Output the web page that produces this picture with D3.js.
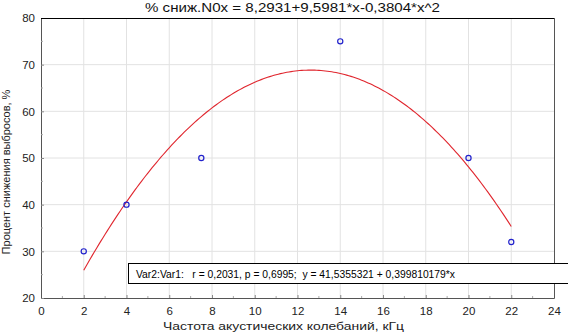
<!DOCTYPE html>
<html><head><meta charset="utf-8">
<script src="https://cdn.jsdelivr.net/npm/d3@7/dist/d3.min.js"></script>
<style>body{margin:0;background:#fff;}svg{display:block;font-family:"Liberation Sans",Arial,sans-serif;}</style>
</head><body>
<svg id="c" width="568" height="335"></svg>
<script>
const xValues = [2, 4, 7.5, 14, 20, 22];
const yValues = [30, 40, 50, 75, 50, 32];
const xTicks = [0,2,4,6,8,10,12,14,16,18,20,22,24];
const yTicks = [20,30,40,50,60,70,80];
const coef = [8.2931, 9.5981, -0.3804];
const titleText = "% сниж.N0x = 8,2931+9,5981*x-0,3804*x^2";
const xLabel = "Частота акустических колебаний, кГц";
const yLabel = "Процент снижения выбросов, %";
const legendText = "Var2:Var1:   r = 0,2031, p = 0,6995;  y = 41,5355321 + 0,399810179*x";

const svg = d3.select("#c");
const L=41,R=554,T=18,B=298;
const x = d3.scaleLinear().domain([0,24]).range([L,R]);
const y = d3.scaleLinear().domain([20,80]).range([B,T]);

// grid
svg.append("g").selectAll("line").data(xTicks.slice(1,-1)).join("line")
  .attr("x1",d=>x(d)).attr("x2",d=>x(d)).attr("y1",T).attr("y2",B)
  .attr("stroke","#e2e2e2").attr("stroke-width",1);
svg.append("g").selectAll("line").data(yTicks.slice(1,-1)).join("line")
  .attr("y1",d=>y(d)).attr("y2",d=>y(d)).attr("x1",L).attr("x2",R)
  .attr("stroke","#e2e2e2").attr("stroke-width",1);

// axes
const xa = svg.append("g").attr("transform",`translate(0,${B})`)
  .call(d3.axisBottom(x).tickValues(xTicks).tickSize(-3).tickPadding(9).tickFormat(d3.format("d")));
const ya = svg.append("g").attr("transform",`translate(${L},0)`)
  .call(d3.axisLeft(y).tickValues(yTicks).tickSize(-3).tickPadding(6).tickFormat(d3.format("d")));
[xa,ya].forEach(a=>{
  a.select(".domain").attr("stroke","#555");
  a.selectAll(".tick line").attr("stroke","#888");
  a.selectAll("text").attr("font-size",11.5).attr("fill","#222").attr("font-family","'Liberation Sans',Arial,sans-serif");
});
// minor ticks
svg.append("g").selectAll("line").data(d3.range(1,24,2)).join("line")
  .attr("x1",d=>x(d)).attr("x2",d=>x(d)).attr("y1",B).attr("y2",B-2).attr("stroke","#aaa");
svg.append("g").selectAll("line").data(d3.range(25,80,10)).join("line")
  .attr("y1",d=>y(d)).attr("y2",d=>y(d)).attr("x1",L).attr("x2",L+2).attr("stroke","#aaa");
// top & right frame
svg.append("line").attr("x1",L).attr("x2",R).attr("y1",T+0.5).attr("y2",T+0.5).attr("stroke","#000");
svg.append("line").attr("x1",R+0.5).attr("x2",R+0.5).attr("y1",T).attr("y2",B).attr("stroke","#555");

// fitted curve
const f = v => coef[0]+coef[1]*v+coef[2]*v*v;
const xs = d3.range(2,22.001,0.1);
svg.append("path").datum(xs)
  .attr("d", d3.line().x(d=>x(d)).y(d=>y(f(d))))
  .attr("fill","none").attr("stroke","#e0262e").attr("stroke-width",1.1);

// points
svg.append("g").selectAll("circle").data(xValues.map((v,i)=>[v,yValues[i]])).join("circle")
  .attr("cx",d=>x(d[0])).attr("cy",d=>y(d[1])).attr("r",2.6)
  .attr("fill","none").attr("stroke","#2222cc").attr("stroke-width",1.2);

// legend box
svg.append("rect").attr("x",128.5).attr("y",263.5).attr("width",460).attr("height",20)
  .attr("fill","#fff").attr("stroke","#000");
svg.append("text").attr("x",136).attr("y",278).attr("font-size",11).attr("fill","#000")
  .attr("xml:space","preserve").style("white-space","pre")
  .attr("textLength",319).attr("lengthAdjust","spacingAndGlyphs").text(legendText);

// titles
svg.append("text").attr("x",145).attr("y",12).attr("font-size",12.5).attr("fill","#111")
  .attr("textLength",295).attr("lengthAdjust","spacingAndGlyphs").text(titleText);
svg.append("text").attr("x",163).attr("y",330).attr("font-size",11.5).attr("fill","#222")
  .attr("textLength",241).attr("lengthAdjust","spacingAndGlyphs").text(xLabel);
svg.append("text").attr("transform",`translate(10,172) rotate(-90)`).attr("text-anchor","middle").attr("font-size",11).attr("fill","#222").text(yLabel);
</script>
</body></html>
